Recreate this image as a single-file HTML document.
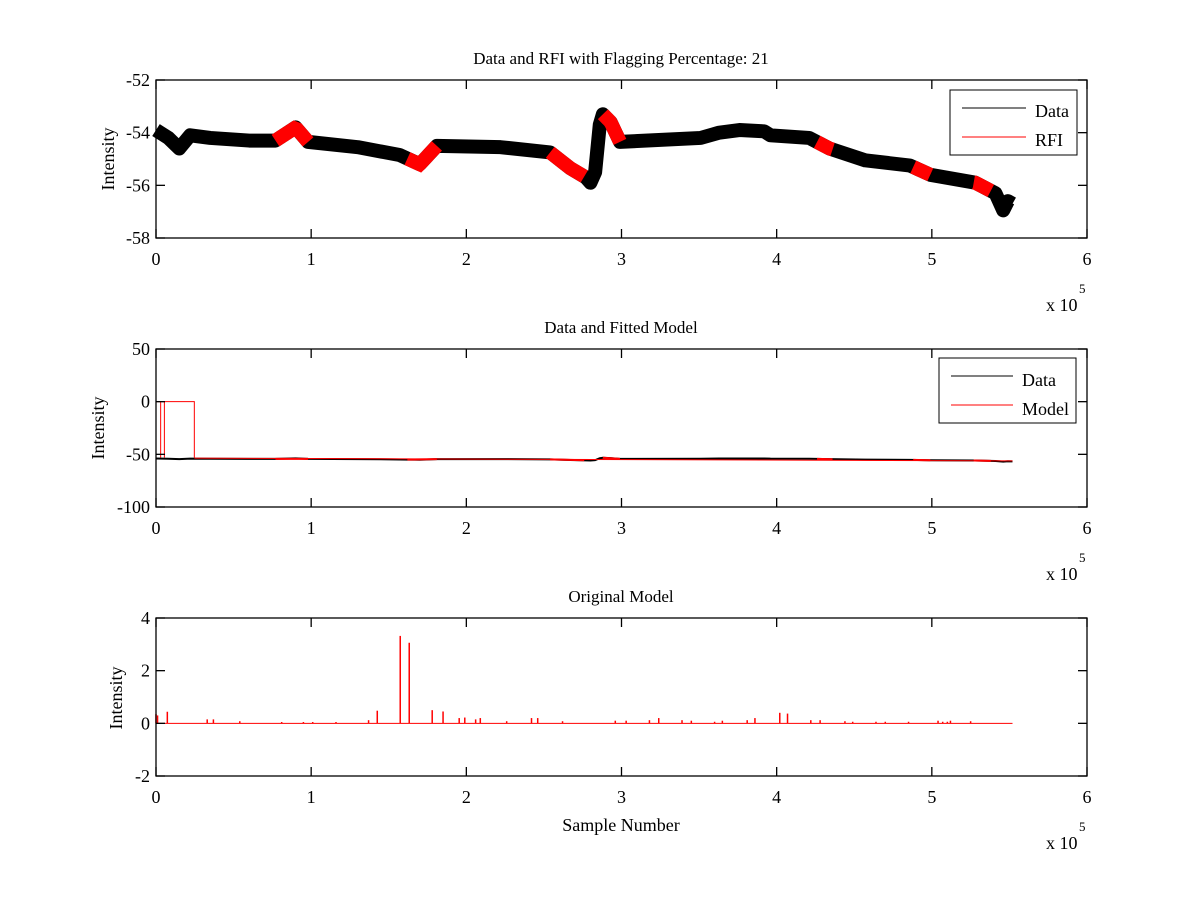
<!DOCTYPE html>
<html><head><meta charset="utf-8"><style>
html,body{margin:0;padding:0;background:#fff;}
svg{display:block;font-family:"Liberation Serif",serif;}
</style></head><body>
<svg id="fig" width="1200" height="900" viewBox="0 0 1200 900"></svg>
<script>
// ---- data (x in units of 1e5 samples) ----
const bandX = [0,0.08,0.15,0.22,0.35,0.6,0.77,0.9,0.98,1.3,1.57,1.7,1.81,2.22,2.54,2.67,2.77,2.8,2.83,2.86,2.88,2.93,2.99,3.51,3.63,3.76,3.92,3.96,4.21,4.34,4.57,4.86,4.99,5.28,5.41,5.46,5.49,5.52];
const bandY = [-53.9,-54.2,-54.6,-54.1,-54.2,-54.3,-54.3,-53.8,-54.35,-54.55,-54.85,-55.2,-54.5,-54.55,-54.75,-55.35,-55.7,-55.9,-55.5,-53.7,-53.3,-53.6,-54.35,-54.2,-54.0,-53.9,-53.95,-54.1,-54.2,-54.6,-55.05,-55.25,-55.6,-55.9,-56.3,-56.95,-56.6,-56.7];
const rfiStart = [0.77,1.62,2.54,2.88,4.26,4.88,5.27];
const rfiEnd   = [0.98,1.81,2.76,2.99,4.36,4.99,5.38];
const spikeX = [0.0,0.01,0.073,0.33,0.37,0.54,0.81,0.95,1.01,1.16,1.37,1.426,1.574,1.632,1.78,1.85,1.954,1.99,2.06,2.09,2.26,2.42,2.46,2.62,2.96,3.03,3.18,3.24,3.39,3.45,3.6,3.65,3.81,3.86,4.02,4.07,4.22,4.28,4.44,4.49,4.64,4.7,4.85,5.04,5.07,5.1,5.12,5.25];
const spikeY = [0.35,0.3,0.44,0.15,0.15,0.08,0.05,0.05,0.05,0.05,0.12,0.48,3.32,3.06,0.5,0.45,0.2,0.22,0.15,0.2,0.08,0.2,0.2,0.08,0.1,0.1,0.12,0.2,0.12,0.1,0.06,0.1,0.12,0.2,0.4,0.37,0.12,0.12,0.08,0.06,0.06,0.06,0.06,0.1,0.06,0.06,0.1,0.08];
const modelBoxX = [0,0.03,0.054,0.247];
const xTicks = [0,1,2,3,4,5,6];
const yTicks1 = [-52,-54,-56,-58];
const yTicks2 = [50,0,-50,-100];
const yTicks3 = [4,2,0,-2];

const NS="http://www.w3.org/2000/svg";
const svg=document.getElementById('fig');
function mk(tag,attrs,parent){const e=document.createElementNS(NS,tag);for(const k in attrs)e.setAttribute(k,attrs[k]);(parent||svg).appendChild(e);return e;}
function txt(s,attrs,parent){const e=mk('text',attrs,parent);e.textContent=s;return e;}
const L=156,R=1087;
function sx(v){return L+(v/6)*(R-L);}
function interp(x){for(let i=0;i<bandX.length-1;i++){if(x>=bandX[i]&&x<=bandX[i+1]){const t=(x-bandX[i])/(bandX[i+1]-bandX[i]);return bandY[i]+t*(bandY[i+1]-bandY[i]);}}return bandY[bandY.length-1];}

function axes(name,top,bot,ymin,ymax,yt,title){
  const g=mk('g',{},svg);
  
  
  const sy=v=>bot-(v-ymin)/(ymax-ymin)*(bot-top);
  const plot=mk('g',{},g);
  
  
  const frame=mk('g',{stroke:'#000','stroke-width':1.3},g);
  mk('rect',{x:L,y:top,width:R-L,height:bot-top,fill:'none'},frame);
  xTicks.forEach(t=>{const x=sx(t);
    mk('line',{x1:x,y1:bot,x2:x,y2:bot-9},frame);mk('line',{x1:x,y1:top,x2:x,y2:top+9},frame);
    const l=txt(String(t),{x:x,y:bot+27,'text-anchor':'middle','font-size':18},g);
    });
  yt.forEach(t=>{const y=sy(t);
    mk('line',{x1:L,y1:y,x2:L+9,y2:y},frame);mk('line',{x1:R,y1:y,x2:R-9,y2:y},frame);
    const l=txt(String(t),{x:L-6,y:y+6,'text-anchor':'end','font-size':18},g);
    });
  const tt=txt(title,{x:621,y:top-16,'text-anchor':'middle','font-size':17},g);
  
  const ex=txt('x 10',{x:1046,y:bot+73,'font-size':18},g);
  
  const e5=txt('5',{x:1079,y:bot+55,'font-size':13},g);
  
  return {g,plot,sy,top,bot};
}

// ---- chart 1 ----
const a1=axes('data-rfi-chart',80,238,-58,-52,yTicks1,'Data and RFI with Flagging Percentage: 21');
const yl1=txt('Intensity',{x:0,y:0,'text-anchor':'middle','font-size':18,transform:'translate(114,159) rotate(-90)'},a1.g);

const bandPts=bandX.map((x,i)=>sx(x)+','+a1.sy(bandY[i])).join(' ');
const band=mk('polyline',{points:bandPts,fill:'none',stroke:'#000','stroke-width':14,'stroke-linejoin':'round'},a1.plot);

rfiStart.forEach((s,i)=>{const e=rfiEnd[i];const pts=[];
  for(let k=0;k<=12;k++){const x=s+(e-s)*k/12;pts.push(sx(x)+','+a1.sy(interp(x)));}
  const p=mk('polyline',{points:pts.join(' '),fill:'none',stroke:'#f00','stroke-width':14},a1.plot);
  });
// legend 1
const lg1=mk('g',{},a1.g);
mk('rect',{x:950,y:90,width:127,height:65,fill:'#fff',stroke:'#000'},lg1);
mk('line',{x1:962,y1:108,x2:1026,y2:108,stroke:'#000'},lg1);
mk('line',{x1:962,y1:137,x2:1026,y2:137,stroke:'#f00'},lg1);
txt('Data',{x:1035,y:117,'font-size':18},lg1);txt('RFI',{x:1035,y:146,'font-size':18},lg1);

// ---- chart 2 ----
const a2=axes('data-model-chart',349,507,-100,50,yTicks2,'Data and Fitted Model');
const yl2=txt('Intensity',{x:0,y:0,'text-anchor':'middle','font-size':18,transform:'translate(104,428) rotate(-90)'},a2.g);

const d2=mk('polyline',{points:bandX.map((x,i)=>sx(x)+','+a2.sy(bandY[i])).join(' '),fill:'none',stroke:'#000','stroke-width':2},a2.plot);

let mp='M'+sx(modelBoxX[0])+','+a2.sy(0)+' H'+sx(modelBoxX[3])+' V'+a2.sy(-53);
mp+=' M'+sx(modelBoxX[0])+','+a2.sy(0)+' V'+a2.sy(-53);
mp+=' M'+sx(modelBoxX[1])+','+a2.sy(0)+' V'+a2.sy(-53);
mp+=' M'+sx(modelBoxX[2])+','+a2.sy(0)+' V'+a2.sy(-53);
const mline=mk('path',{d:mp,fill:'none',stroke:'#f00','stroke-width':1},a2.plot);

const mflat=mk('polyline',{points:[modelBoxX[3],5.52].map(x=>sx(x)+','+a2.sy(interp(x)+0.5)).join(' '),fill:'none',stroke:'#f00','stroke-width':1},a2.plot);

rfiStart.forEach((s,i)=>{const e=rfiEnd[i];
  const p=mk('line',{x1:sx(s),x2:sx(e),y1:a2.sy(interp(s)),y2:a2.sy(interp(e)),stroke:'#f00','stroke-width':2},a2.plot);
  });
const lg2=mk('g',{},a2.g);
mk('rect',{x:939,y:358,width:137,height:65,fill:'#fff',stroke:'#000'},lg2);
mk('line',{x1:951,y1:376,x2:1013,y2:376,stroke:'#000'},lg2);
mk('line',{x1:951,y1:405,x2:1013,y2:405,stroke:'#f00'},lg2);
txt('Data',{x:1022,y:386,'font-size':18},lg2);txt('Model',{x:1022,y:415,'font-size':18},lg2);

// ---- chart 3 ----
const a3=axes('original-model-chart',618,776,-2,4,yTicks3,'Original Model');
const yl3=txt('Intensity',{x:0,y:0,'text-anchor':'middle','font-size':18,transform:'translate(122,698) rotate(-90)'},a3.g);

const base=mk('line',{x1:sx(0),x2:sx(5.52),y1:a3.sy(0),y2:a3.sy(0),stroke:'#f00','stroke-width':1},a3.plot);

spikeX.forEach((x,i)=>{
  const s=mk('line',{x1:sx(x),x2:sx(x),y1:a3.sy(0),y2:a3.sy(spikeY[i]),stroke:'#f00','stroke-width':1.5},a3.plot);
  });
const xl=txt('Sample Number',{x:621,y:831,'text-anchor':'middle','font-size':18},a3.g);

</script>
</body></html>
